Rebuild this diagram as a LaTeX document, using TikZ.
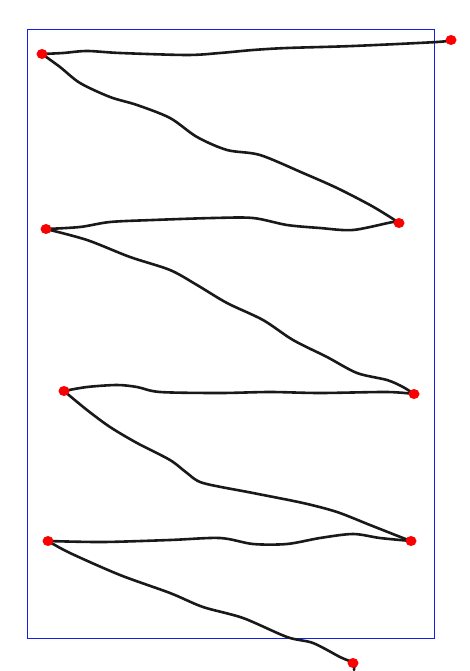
\documentclass[tikz,border=0pt]{standalone}
\usepackage{tikz}
\definecolor{framblue}{RGB}{20,30,230}
\definecolor{dotred}{RGB}{250,0,0}

\begin{document}
\begin{tikzpicture}[x=1pt,y=-1pt,
    pen/.style={line width=2.6pt,line cap=round,line join=round,black!90},
    framebox/.style={draw=framblue,line width=1pt},
    reddot/.style={fill=dotred,x radius=5.5pt,y radius=5pt}]
  \useasboundingbox (0,0) rectangle (469,671);
  \draw[framebox] (27,30) rectangle (434,638);
  % turning points of the scribble
  \coordinate (p0) at (451,40);
  \coordinate (p1) at (42,54);
  \coordinate (p2) at (399,223);
  \coordinate (p3) at (46,229);
  \coordinate (p4) at (414,394);
  \coordinate (p5) at (64,391);
  \coordinate (p6) at (411,541);
  \coordinate (p7) at (48,541);
  \coordinate (p8) at (353,663);
  \draw[pen] plot[smooth,tension=0.5] coordinates {(p0) (437,42) (353,46) (287,48) (253,50)
      (220,53) (187,55) (120,53) (87,51) (63,53) (p1)};
  \draw[pen] plot[smooth,tension=0.5] coordinates {(p1) (60,67) (80,83) (110,97) (137,105)
      (170,118) (197,137) (227,150) (260,155) (303,173) (337,188) (370,205) (390,217) (p2)};
  \draw[pen] plot[smooth,tension=0.5] coordinates {(p2) (393,222) (353,230) (320,228)
      (287,225) (253,218) (213,218) (153,220) (110,222) (80,227) (p3)};
  \draw[pen] plot[smooth,tension=0.5] coordinates {(p3) (87,240) (130,257) (170,270)
      (197,285) (227,303) (263,320) (293,340) (327,357) (357,373) (387,380) (403,387) (p4)};
  \draw[pen] plot[smooth,tension=0.5] coordinates {(p4) (387,392) (320,393) (270,392)
      (220,393) (160,392) (137,387) (117,385) (87,387) (p5)};
  \draw[pen] plot[smooth,tension=0.5] coordinates {(p5) (87,410) (110,427) (137,443)
      (170,460) (187,473) (203,483) (253,493) (303,503) (337,512) (370,525) (403,538) (p6)};
  \draw[pen] plot[smooth,tension=0.5] coordinates {(p6) (380,538) (353,534) (320,538)
      (287,544) (253,544) (220,538) (170,540) (103,542) (p7)};
  \draw[pen] plot[smooth,tension=0.5] coordinates {(p7) (70,553) (120,575) (170,593)
      (203,607) (243,618) (287,637) (313,643) (340,657) (p8) (354,670)};
  \foreach \p in {p0,p1,p2,p3,p4,p5,p6,p7,p8}
    \fill[reddot] (\p) ellipse [];
\end{tikzpicture}
\end{document}
